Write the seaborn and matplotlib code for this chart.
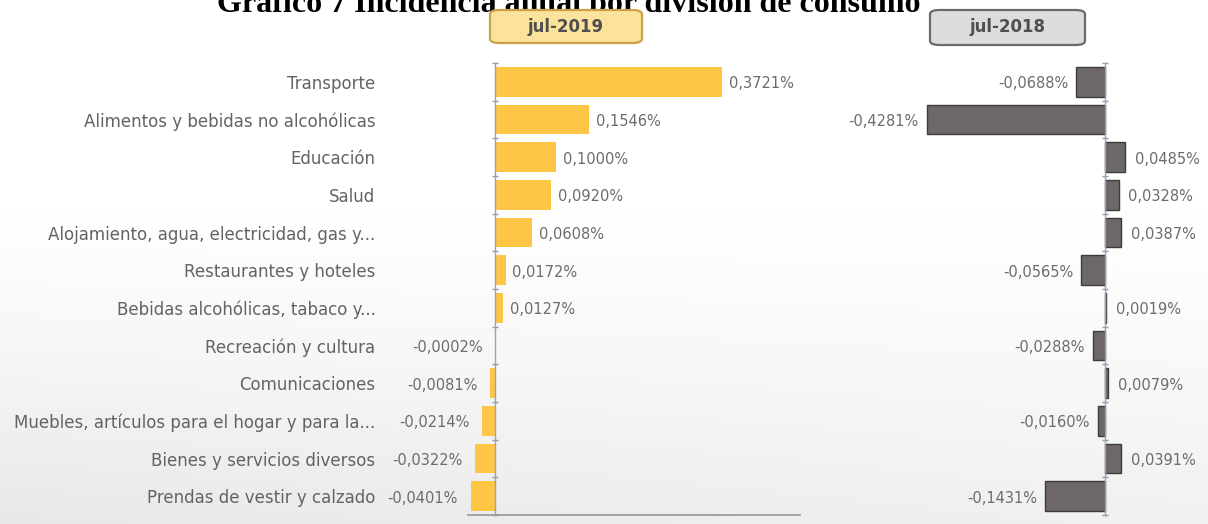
import numpy as np
import pandas as pd
import matplotlib
matplotlib.use("Agg")
import matplotlib.pyplot as plt
from matplotlib.patches import FancyBboxPatch
from matplotlib.ticker import FixedLocator
from matplotlib.transforms import ScaledTranslation
import seaborn as sns

categories = [
    "Transporte",
    "Alimentos y bebidas no alcohólicas",
    "Educación",
    "Salud",
    "Alojamiento, agua, electricidad, gas y...",
    "Restaurantes y hoteles",
    "Bebidas alcohólicas, tabaco y...",
    "Recreación y cultura",
    "Comunicaciones",
    "Muebles, artículos para el hogar y para la...",
    "Bienes y servicios diversos",
    "Prendas de vestir y calzado",
]
incidence_2019 = [0.3721, 0.1546, 0.1000, 0.0920, 0.0608, 0.0172, 0.0127,
                  -0.0002, -0.0081, -0.0214, -0.0322, -0.0401]
incidence_2018 = [-0.0688, -0.4281, 0.0485, 0.0328, 0.0387, -0.0565, 0.0019,
                  -0.0288, 0.0079, -0.0160, 0.0391, -0.1431]
period_labels = ["jul-2019", "jul-2018"]
title = "Gráfico 7 Incidencia anual por división de consumo"

df = pd.DataFrame({"division": categories,
                   "y2019": incidence_2019,
                   "y2018": incidence_2018})

sns.set_theme(style="white")
plt.rcParams["font.family"] = ["DejaVu Sans"]

W, H = 1208, 524
fig = plt.figure(figsize=(W / 100, H / 100), dpi=100)
fig.patch.set_facecolor("white")

# soft grey wash in the lower part of the page
bg = fig.add_axes([0, 0, 1, 1], zorder=-10)
yy = np.linspace(0, 1, 200)[:, None]
xx = np.linspace(0, 1, 300)[None, :]
shade = np.clip((yy - 0.4) / 0.6, 0, 1) ** 1.2 * (0.09 - 0.035 * xx)
img = np.ones((200, 300, 3)) - shade[..., None]
bg.imshow(img, aspect="auto", extent=[0, 1, 0, 1], origin="upper")
bg.set_axis_off()


def fig_box(x0, x1, y0, y1):
    return [x0 / W, 1 - y1 / H, (x1 - x0) / W, (y1 - y0) / H]


label_color = "#636363"
value_color = "#6c6c6c"
tick_color = "#8f9bb0"

ax1 = fig.add_axes(fig_box(468, 800, 63, 515))
ax2 = fig.add_axes(fig_box(920, 1200, 63, 515))

sns.barplot(data=df, x="y2019", y="division", orient="h", color="#FDC745",
            saturation=1, width=0.78, ax=ax1, linewidth=0)
sns.barplot(data=df, x="y2018", y="division", orient="h", color="#6d6769",
            saturation=1, width=0.78, ax=ax2, linewidth=1.0,
            edgecolor="#3f3b3c")

ax1.set_xlim(-0.0443, 0.50)
ax2.set_xlim(-0.4447, 0.2284)

for ax, vals, lpad, rpad in ((ax1, incidence_2019, 9, 5),
                             (ax2, incidence_2018, 6, 7)):
    ax.set_facecolor("none")
    ax.set_ylim(len(categories) - 0.5, -0.5)
    ax.set_xlabel("")
    ax.set_ylabel("")
    ax.set_xticks([])
    for s in ("top", "right"):
        ax.spines[s].set_visible(False)
    ax.spines["left"].set_position(("data", 0))
    ax.spines["left"].set_color("#9aa3b5")
    ax.spines["left"].set_linewidth(1.0)
    ax.yaxis.set_minor_locator(FixedLocator(np.arange(len(categories) + 1) - 0.5))
    ax.tick_params(axis="y", which="minor", length=4, width=1,
                   color=tick_color, direction="inout", left=True)
    for i, v in enumerate(vals):
        txt = f"{v:.4f}".replace(".", ",") + "%"
        if v >= 0:
            ax.annotate(txt, (v, i), xytext=(rpad, -1.5), textcoords="offset points",
                        ha="left", va="center", fontsize=10.5, color=value_color)
        else:
            ax.annotate(txt, (v, i), xytext=(-lpad, -1.5),
                        textcoords="offset points",
                        ha="right", va="center", fontsize=10.5, color=value_color)

ax1.spines["bottom"].set_color("#9a9a9a")
ax1.tick_params(axis="y", which="major", length=0, pad=86,
                labelsize=12, labelcolor=label_color)
ax2.spines["bottom"].set_visible(False)
ax2.tick_params(axis="y", which="major", length=0, labelleft=False)

# period header boxes
headers = [
    (period_labels[0], (490, 642, 10, 43), "#FCE39B", "#C9A14A"),
    (period_labels[1], (930, 1085, 10, 45), "#DCDCDC", "#6a6a6a"),
]
for text, (x0, x1, y0, y1), face, edge in headers:
    box = FancyBboxPatch((x0 / W, 1 - y1 / H), (x1 - x0) / W, (y1 - y0) / H,
                         boxstyle="round,pad=0,rounding_size=0.008",
                         transform=fig.transFigure, facecolor=face,
                         edgecolor=edge, linewidth=1.6, zorder=5)
    fig.patches.append(box)
    fig.text((x0 + x1) / 2 / W, 1 - (y0 + y1) / 2 / H, text, ha="center",
             va="center", fontsize=12, fontweight="bold", color="#4f4f4f",
             zorder=6)

fig.text(569 / W, 1 - 12 / H, title, ha="center", va="baseline",
         fontsize=23, fontweight="bold", family=["Liberation Serif"],
         color="black")

# keep over-long category names inside the left edge of the page
fig.canvas.draw()
renderer = fig.canvas.get_renderer()
for lab in ax1.get_yticklabels():
    bb = lab.get_window_extent(renderer)
    if bb.x0 < 12:
        shift = (12 - bb.x0) / fig.dpi
        lab.set_transform(lab.get_transform()
                          + ScaledTranslation(shift, 0, fig.dpi_scale_trans))

fig.savefig("out.png", dpi=100)
